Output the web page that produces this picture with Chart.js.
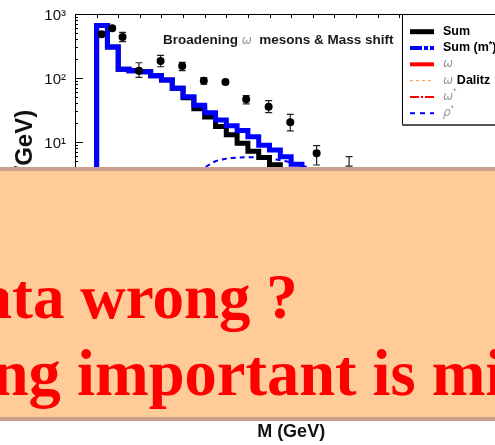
<!DOCTYPE html>
<html><head><meta charset="utf-8">
<script src="https://cdn.jsdelivr.net/npm/chart.js@4/dist/chart.umd.min.js"></script>
<style>
html,body{margin:0;padding:0;overflow:hidden;background:#fff;width:495px;height:445px;}
#wrap{position:relative;width:495px;height:445px;overflow:hidden;}
#c{position:absolute;left:0;top:0;}
#ovl{position:absolute;left:0;top:167px;width:495px;height:246px;background:#FFCC99;border-top:4px solid #C9A08C;border-bottom:4px solid #C9A08C;overflow:hidden;}
.ln{position:absolute;white-space:nowrap;font-family:"Liberation Serif","DejaVu Serif",serif;font-weight:bold;color:#FF0000;}
.l1{font-size:63px;line-height:63px;left:-65px;top:95px;}
.l2{font-size:64.5px;line-height:64.5px;left:-233px;top:171px;}
</style></head>
<body>
<div id="wrap">
<canvas id="c" width="520" height="445"></canvas>
<div id="ovl">
  <div class="ln l1">Data wrong ?</div>
  <div class="ln l2">Something important is missing</div>
</div>
</div>
<script>
// ---- data ----
const massEdges = [0.050,0.075,0.100,0.125,0.150,0.175,0.200,0.225,0.250,0.275,0.300,0.325,0.350,0.375,0.400,0.425,0.450,0.475,0.500,0.525,0.550,0.575,0.600,0.625];
const sumValues      = [600,660,305,137,130,125,108,93,69,49,33,24.5,17.5,13,9.6,7.2,5.7,4.4,3.4,2.7,2.2,1.9,1.7];
const sumMStarValues = [600,660,305,137,130,125,108,93,69,51,37.6,28.7,22,18,15.1,12.1,8.9,7.5,5.9,4.5,3.6,3.0,2.6];

const dataMass    = [0.0615,0.086,0.110,0.148,0.198,0.248,0.298,0.348,0.396,0.448,0.498,0.559];
const dataValue   = [482,597,437,130,184,154,90.8,86.6,46.4,35.6,20.3,6.65];
const dataErrLow  = [445,560,369,102,150,130,79.8,80,39.3,28.7,14.9,4.37];
const dataErrHigh = [525,640,517,173,226,176,101,93,53,44.2,27.1,8.75];
const barOnlyMass = [0.634];
const barOnlyLow  = [4.2];
const barOnlyHigh = [5.9];

const rhoStarMass  = [0.25,0.275,0.30,0.325,0.35,0.375,0.40,0.425,0.45,0.475,0.50,0.525,0.55,0.60];
const rhoStarValue = [2.4,3.2,4.0,5.0,5.5,5.7,5.8,5.7,5.5,5.2,4.8,4.3,3.8,2.8];
const omegaMass  = [0.70,0.74,0.76,0.78,0.80,0.82,0.86];
const omegaValue = [0.05,0.3,1.0,2.0,1.0,0.3,0.05];
const omegaDalitzMass  = [0.05,0.10,0.20,0.30,0.40,0.50,0.60];
const omegaDalitzValue = [0.6,0.5,0.35,0.22,0.12,0.05,0.01];
const omegaStarMass  = [0.45,0.55,0.65,0.72,0.78,0.85];
const omegaStarValue = [0.05,0.25,0.6,0.8,0.6,0.1];

const yTickValues = [1e-3,1e-2,1e-1,1,10,100,1000];
const yTickLabels = ['10\u207B\u00B3','10\u207B\u00B2','10\u207B\u00B9','10\u2070','10\u00B9','10\u00B2','10\u00B3'];
const yFloor = 1e-3;

function stepPoints(edges, vals){
  const pts=[{x:edges[0],y:yFloor}];
  vals.forEach((v,i)=>pts.push({x:edges[i],y:v}));
  pts.push({x:edges[vals.length],y:vals[vals.length-1]});
  pts.push({x:edges[vals.length],y:yFloor});
  return pts;
}
const pairs=(xs,ys)=>xs.map((x,i)=>({x:x,y:ys[i]}));

const errorBars = {
  id:'errorBars',
  beforeDatasetsDraw(chart){
    const {ctx, scales:{x,y}} = chart;
    ctx.save(); ctx.strokeStyle='#222'; ctx.lineWidth=1.2;
    const draw=(m,lo,hi)=>{
      const px=x.getPixelForValue(m), yl=y.getPixelForValue(lo), yh=y.getPixelForValue(hi);
      ctx.beginPath(); ctx.moveTo(px,yl); ctx.lineTo(px,yh);
      ctx.moveTo(px-3.5,yl); ctx.lineTo(px+3.5,yl);
      ctx.moveTo(px-3.5,yh); ctx.lineTo(px+3.5,yh); ctx.stroke();
    };
    dataMass.forEach((m,i)=>draw(m,dataErrLow[i],dataErrHigh[i]));
    barOnlyMass.forEach((m,i)=>draw(m,barOnlyLow[i],barOnlyHigh[i]));
    ctx.restore();
  }
};

const frameTicks = {
  id:'frameTicks',
  afterDraw(chart){
    const {ctx, chartArea:ca, scales:{x,y}} = chart;
    ctx.save(); ctx.strokeStyle='#000'; ctx.lineWidth=1;
    ctx.strokeRect(Math.round(ca.left)+0.5, Math.round(ca.top)+0.5, ca.right-ca.left, ca.bottom-ca.top);
    ctx.beginPath();
    for(let k=1;k<20;k++){
      const px=Math.round(x.getPixelForValue(k*0.05))+0.5;
      ctx.moveTo(px,ca.top); ctx.lineTo(px,ca.top+4);
      ctx.moveTo(px,ca.bottom); ctx.lineTo(px,ca.bottom-4);
    }
    for(let d=-3; d<3; d++){
      for(let m=1;m<10;m++){
        const v=m*Math.pow(10,d);
        const py=Math.round(y.getPixelForValue(v))+0.5;
        const len = m===1?8:3;
        ctx.moveTo(ca.left,py); ctx.lineTo(ca.left+len,py);
      }
    }
    ctx.stroke();
    ctx.restore();
  }
};

const boxLegend = {
  id:'boxLegend',
  afterDraw(chart, args, opts){
    const {ctx, chartArea:ca} = chart;
    const left = Math.round(ca.right - opts.width), top = Math.round(ca.top), bottom = top + opts.height;
    ctx.save();
    ctx.fillStyle='#fff'; ctx.fillRect(left, top+1, ca.right-left, bottom-top-1);
    ctx.strokeStyle='#000'; ctx.lineWidth=1;
    ctx.beginPath(); ctx.moveTo(left+0.5, top); ctx.lineTo(left+0.5,bottom); ctx.stroke();
    ctx.strokeStyle='#555'; ctx.lineWidth=2;
    ctx.beginPath(); ctx.moveTo(left, bottom); ctx.lineTo(ca.right,bottom); ctx.stroke();
    opts.items.forEach((it,i)=>{
      const y = top + opts.firstRow + i*opts.rowGap;
      ctx.setLineDash(it.dash||[]); ctx.strokeStyle=it.color; ctx.lineWidth=it.width;
      ctx.beginPath(); ctx.moveTo(left+8,y); ctx.lineTo(left+32,y); ctx.stroke();
      ctx.setLineDash([]);
      let x = left+41;
      ctx.textBaseline='middle';
      it.parts.forEach(p=>{
        ctx.font=p.font; ctx.fillStyle=p.color;
        ctx.fillText(p.t, x, y + (p.dy||0)); x += ctx.measureText(p.t).width + (p.gap||0);
      });
    });
    ctx.restore();
  }
};

const noteText = {
  id:'noteText',
  afterDraw(chart, args, opts){
    const {ctx, chartArea:ca} = chart;
    ctx.save(); ctx.textBaseline='middle';
    let x = ca.left + opts.dx; const y = ca.top + opts.dy;
    opts.parts.forEach(p=>{ ctx.font=p.font; ctx.fillStyle=p.color; ctx.fillText(p.t,x,y); x+=ctx.measureText(p.t).width; });
    ctx.restore();
  }
};

const LB = 'bold 12.5px "Liberation Sans", Arial, sans-serif';
const LG = 'italic 12px "DejaVu Sans", sans-serif';
const GR = '#9a9a9a';

new Chart(document.getElementById('c'), {
  type:'line',
  data:{datasets:[
    {label:'data', data:pairs(dataMass,dataValue), showLine:false, pointRadius:4, pointBackgroundColor:'#000', pointBorderColor:'#000', pointBorderWidth:0},
    {label:'Sum (m*)', data:stepPoints(massEdges,sumMStarValues), stepped:'after', borderColor:'#0000FF', borderWidth:5, pointRadius:0, borderJoinStyle:'miter', fill:false},
    {label:'Sum', data:stepPoints(massEdges,sumValues), stepped:'after', borderColor:'#000000', borderWidth:5, pointRadius:0, borderJoinStyle:'miter', fill:false},
    {label:'\u03C1*', data:pairs(rhoStarMass,rhoStarValue), borderColor:'#0000FF', borderWidth:2, borderDash:[5,4], pointRadius:0, cubicInterpolationMode:'monotone'},
    {label:'\u03C9', data:pairs(omegaMass,omegaValue), borderColor:'#FF0000', borderWidth:3, pointRadius:0, cubicInterpolationMode:'monotone'},
    {label:'\u03C9 Dalitz', data:pairs(omegaDalitzMass,omegaDalitzValue), borderColor:'#F4A460', borderWidth:1.5, borderDash:[3,3], pointRadius:0, cubicInterpolationMode:'monotone'},
    {label:'\u03C9*', data:pairs(omegaStarMass,omegaStarValue), borderColor:'#FF0000', borderWidth:2, borderDash:[8,3,2,3], pointRadius:0, cubicInterpolationMode:'monotone'}
  ]},
  options:{
    responsive:false, animation:false, events:[],
    layout:{padding:{top:14,right:11,left:0,bottom:0}},
    scales:{
      x:{type:'linear', min:0, max:1, grid:{display:false, drawTicks:false}, border:{display:false},
         ticks:{stepSize:0.2, maxRotation:0, color:'#111', font:{family:'Liberation Sans', size:14}},
         title:{display:true, text:'M (GeV)', color:'#111', font:{family:'Liberation Sans', weight:'bold', size:18}, padding:{top:0,bottom:2}},
         afterFit(s){ s.height=47; }},
      y:{type:'logarithmic', min:1e-3, max:1e3, grid:{display:false, drawTicks:false}, border:{display:false},
         afterBuildTicks(s){ s.ticks = yTickValues.map(v=>({value:v, major:true})); },
         ticks:{autoSkip:false, padding:9, labelOffset:2, color:'#111', font:{family:'Liberation Sans', size:15},
                callback:(v,i)=>yTickLabels[i]},
         title:{display:true, text:'\u00A0\u00A0d\u03C3/dM (\u03BCb/GeV)', color:'#111', font:{family:'Liberation Sans', weight:'bold', size:24}, padding:{top:11,bottom:0}},
         afterFit(s){ s.width=75; s.paddingTop=0; s.paddingBottom=0; }}
    },
    plugins:{
      legend:{display:false}, tooltip:{enabled:false},
      boxLegend:{width:105, height:111, firstRow:17.7, rowGap:16.3, items:[
        {color:'#000', width:5, dash:[], parts:[{t:'Sum', font:LB, color:'#000'}]},
        {color:'#0000FF', width:4, dash:[12,2,4,2], parts:[{t:'Sum (m', font:LB, color:'#000'},{t:'*', font:'bold 9px "Liberation Sans"', color:'#000', dy:-3},{t:')', font:LB, color:'#000'}]},
        {color:'#FF0000', width:4, dash:[], parts:[{t:'\u03C9', font:LG, color:GR}]},
        {color:'#F4A460', width:1.2, dash:[3,3], parts:[{t:'\u03C9 ', font:LG, color:GR},{t:'Dalitz', font:LB, color:'#000'}]},
        {color:'#FF0000', width:2, dash:[9,2,2,2], parts:[{t:'\u03C9', font:LG, color:GR},{t:'*', font:'9px "Liberation Sans"', color:GR, dy:-5}]},
        {color:'#0000FF', width:2, dash:[5,5], parts:[{t:'\u03C1', font:LG, color:GR},{t:'*', font:'9px "Liberation Sans"', color:GR, dy:-5}]}
      ]},
      noteText:{dx:88, dy:26.5, parts:[
        {t:'Broadening ', font:'bold 13.5px "Liberation Sans", Arial', color:'#1a1a1a'},
        {t:'\u03C9', font:'italic 12px "DejaVu Sans"', color:GR},
        {t:'  mesons & Mass shift', font:'bold 13.5px "Liberation Sans", Arial', color:'#1a1a1a'}
      ]}
    }
  },
  plugins:[errorBars, frameTicks, boxLegend, noteText]
});
</script>
</body></html>
